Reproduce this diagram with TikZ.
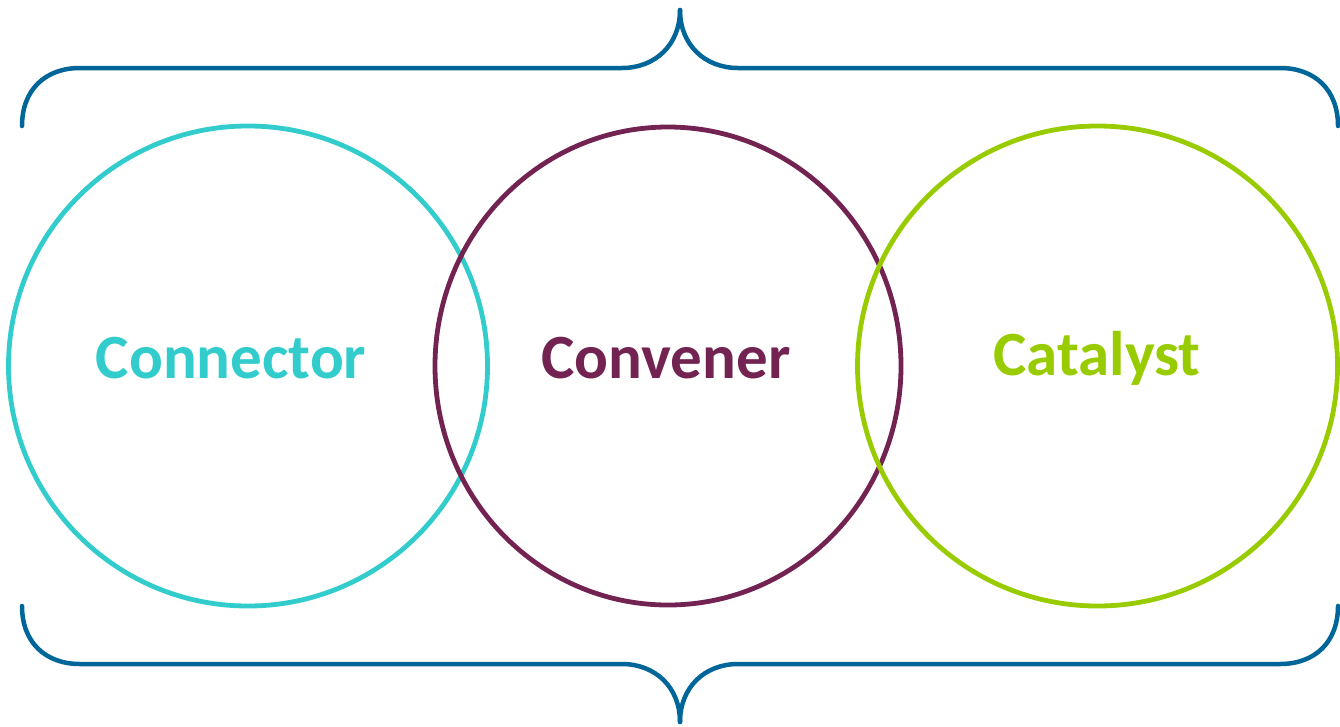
\documentclass[tikz,border=0pt]{standalone}
\usepackage{fontspec}
\setmainfont{Carlito}
\usetikzlibrary{shapes.geometric}
\definecolor{bracec}{RGB}{0,102,153}
\definecolor{cyanc}{RGB}{51,204,204}
\definecolor{purplec}{RGB}{115,35,82}
\definecolor{greenc}{RGB}{153,204,0}
\begin{document}
\begin{tikzpicture}[x=1pt,y=-1pt,
  brace/.style={draw=bracec,line width=4.5pt,line cap=round,line join=round},
  ring/.style 2 args={ellipse,line width=4.8pt,minimum width=#1*2pt,minimum height=#2*2pt,inner sep=0pt},
  lbl/.style={font=\fontsize{63}{70}\selectfont\bfseries}]
\useasboundingbox (0,0) rectangle (1340,726);
% top brace
\draw[brace] (22,126) .. controls (22,90) and (45,68) .. (80,68) -- (622,68)
  .. controls (655,68) and (680,45) .. (680,10);
\draw[brace] (680,10) .. controls (680,45) and (705,68) .. (738,68) -- (1280,68)
  .. controls (1315,68) and (1338,90) .. (1338,126);
% bottom brace
\draw[brace] (22,606) .. controls (22,642) and (45,664) .. (80,664) -- (622,664)
  .. controls (655,664) and (680,687) .. (680,722);
\draw[brace] (680,722) .. controls (680,687) and (705,664) .. (738,664) -- (1280,664)
  .. controls (1315,664) and (1338,642) .. (1338,606);
% circles
\node[ring={239.5}{240},draw=cyanc] (c1) at (248,366) {};
\node[ring={233}{239},draw=purplec] (c2) at (668,366) {};
\node[ring={240}{240},draw=greenc] (c3) at (1097.5,366) {};
% labels
\node[lbl,text=cyanc] (t1) at (231,358) {Connector};
\node[lbl,text=purplec] (t2) at (666,358) {Convener};
\node[lbl,text=greenc] (t3) at (1097,358) {Catalyst};
\end{tikzpicture}
\end{document}
